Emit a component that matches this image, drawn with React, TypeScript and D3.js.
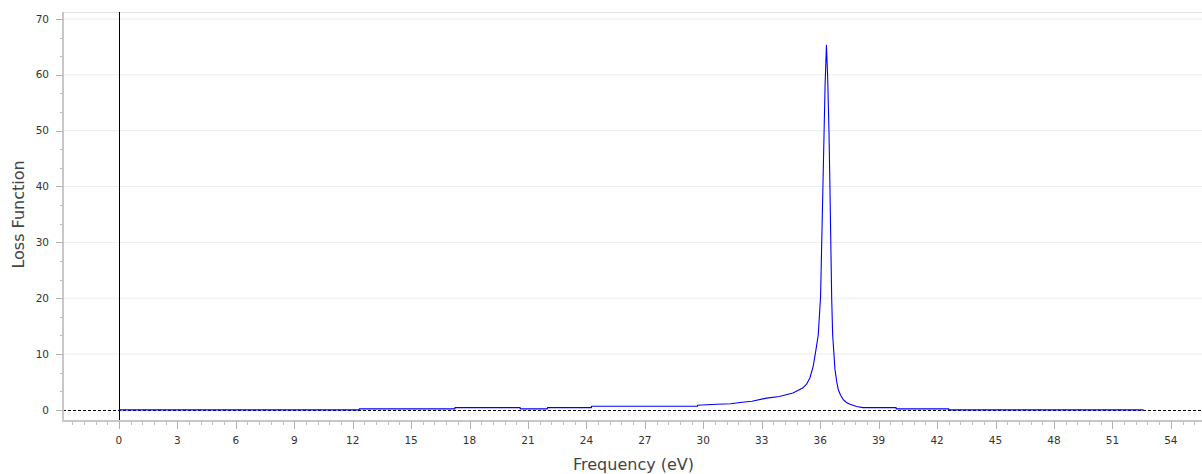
import React from "react";
import * as d3 from "d3";

const freq = [0, 12.34, 12.34, 17.25, 17.25, 20.6, 20.6, 22.0, 22.0, 24.26, 24.26, 29.7, 29.7, 30.7, 31.4, 32.0, 32.5, 33.25, 33.9, 34.6, 35.1, 35.3, 35.47, 35.64, 35.78, 35.9, 36.02, 36.14, 36.25, 36.32, 36.38, 36.45, 36.5, 36.59, 36.64, 36.76, 36.85, 36.93, 37.05, 37.19, 37.35, 37.53, 37.87, 38.2, 39.9, 39.9, 42.6, 42.6, 52.6];
const loss = [0, 0, 0.18, 0.18, 0.4, 0.4, 0.18, 0.18, 0.4, 0.4, 0.65, 0.65, 0.83, 1.0, 1.1, 1.37, 1.55, 2.1, 2.4, 3.0, 3.9, 4.6, 5.7, 7.8, 10.7, 13.4, 20.3, 39.9, 58, 65.3, 60, 50, 40, 20, 13.4, 7.2, 5.0, 3.6, 2.6, 1.8, 1.3, 1.0, 0.6, 0.4, 0.4, 0.18, 0.18, 0, 0];
const xTicks = [0, 3, 6, 9, 12, 15, 18, 21, 24, 27, 30, 33, 36, 39, 42, 45, 48, 51, 54];
const yTicks = [0, 10, 20, 30, 40, 50, 60, 70];
const xDomain = [-2.87, 55.6];
const yDomain = [-2.0, 71.25];

const W = 1202, H = 474;
const L = 63, R = 1202, T = 12, B = 421;
const FONT = "DejaVu Sans, Verdana, sans-serif";

export default function App() {
  const x = d3.scaleLinear().domain(xDomain).range([L, R]);
  const y = d3.scaleLinear().domain(yDomain).range([B, T]);
  const pts = freq.map((f, i) => [f, loss[i]] as [number, number]);
  const line = d3.line<[number, number]>().x(d => x(d[0])).y(d => y(d[1]));

  const xMinor: number[] = [];
  for (let v = -2.4; v <= 55.6; v += 0.6) {
    const r = Math.round(v * 10) / 10;
    if (Math.abs(r / 3 - Math.round(r / 3)) > 1e-6) xMinor.push(r);
  }
  const yMinor: number[] = [];
  for (let k = 0; k <= 21; k++) {
    const v = k * 10 / 3;
    if (k % 3 !== 0 && v < yDomain[1]) yMinor.push(v);
  }

  return (
    <div style={{ position: "absolute", left: 0, top: 0 }}>
      <svg width={W} height={H} style={{ display: "block", background: "#fff" }}>
        {yTicks.filter(t => t !== 0).map(t => (
          <line key={"g" + t} x1={L} x2={R} y1={y(t)} y2={y(t)} stroke="#ececec" strokeWidth={1} />
        ))}
        <line x1={L} x2={R} y1={T + 0.5} y2={T + 0.5} stroke="#e3e3e3" strokeWidth={1} />
        <line x1={L} x2={R} y1={Math.round(y(0)) + 0.5} y2={Math.round(y(0)) + 0.5} stroke="#000" strokeWidth={1} strokeDasharray="3,2" />
        <line x1={Math.round(x(0)) + 0.5} x2={Math.round(x(0)) + 0.5} y1={T} y2={B} stroke="#000" strokeWidth={1} />
        <path d={line(pts) || ""} fill="none" stroke="#0000ff" strokeWidth={1.1} strokeLinejoin="round" />
        <line x1={L} x2={L} y1={T} y2={B + 1} stroke="#c8c8c8" strokeWidth={2} />
        <line x1={L} x2={R} y1={B} y2={B} stroke="#c8c8c8" strokeWidth={2} />
        {yTicks.map(t => (
          <g key={"y" + t}>
            <line x1={L - 7} x2={L} y1={Math.round(y(t)) + 0.5} y2={Math.round(y(t)) + 0.5} stroke="#b0b0b0" />
            <text x={49} y={y(t)} dy="0.35em" textAnchor="end" fontFamily={FONT} fontSize={10.5} fill="#333">{t}</text>
          </g>
        ))}
        {yMinor.map(t => (
          <line key={"ym" + t} x1={L - 3} x2={L} y1={Math.round(y(t)) + 0.5} y2={Math.round(y(t)) + 0.5} stroke="#c0c0c0" />
        ))}
        {xTicks.map(t => (
          <g key={"x" + t}>
            <line x1={Math.round(x(t)) + 0.5} x2={Math.round(x(t)) + 0.5} y1={B} y2={B + 8} stroke="#b0b0b0" />
            <text x={x(t)} y={444} textAnchor="middle" fontFamily={FONT} fontSize={10.5} fill="#333">{t}</text>
          </g>
        ))}
        {xMinor.map(t => (
          <line key={"xm" + t} x1={Math.round(x(t)) + 0.5} x2={Math.round(x(t)) + 0.5} y1={B} y2={B + 4} stroke="#c0c0c0" />
        ))}
        <text x={(L + R) / 2 + 1} y={470} textAnchor="middle" fontFamily={FONT} fontSize={16} fill="#444">Frequency (eV)</text>
        <text transform={`translate(24,${(T + B) / 2 - 2}) rotate(-90)`} textAnchor="middle" fontFamily={FONT} fontSize={16} fill="#444">Loss Function</text>
      </svg>
    </div>
  );
}
